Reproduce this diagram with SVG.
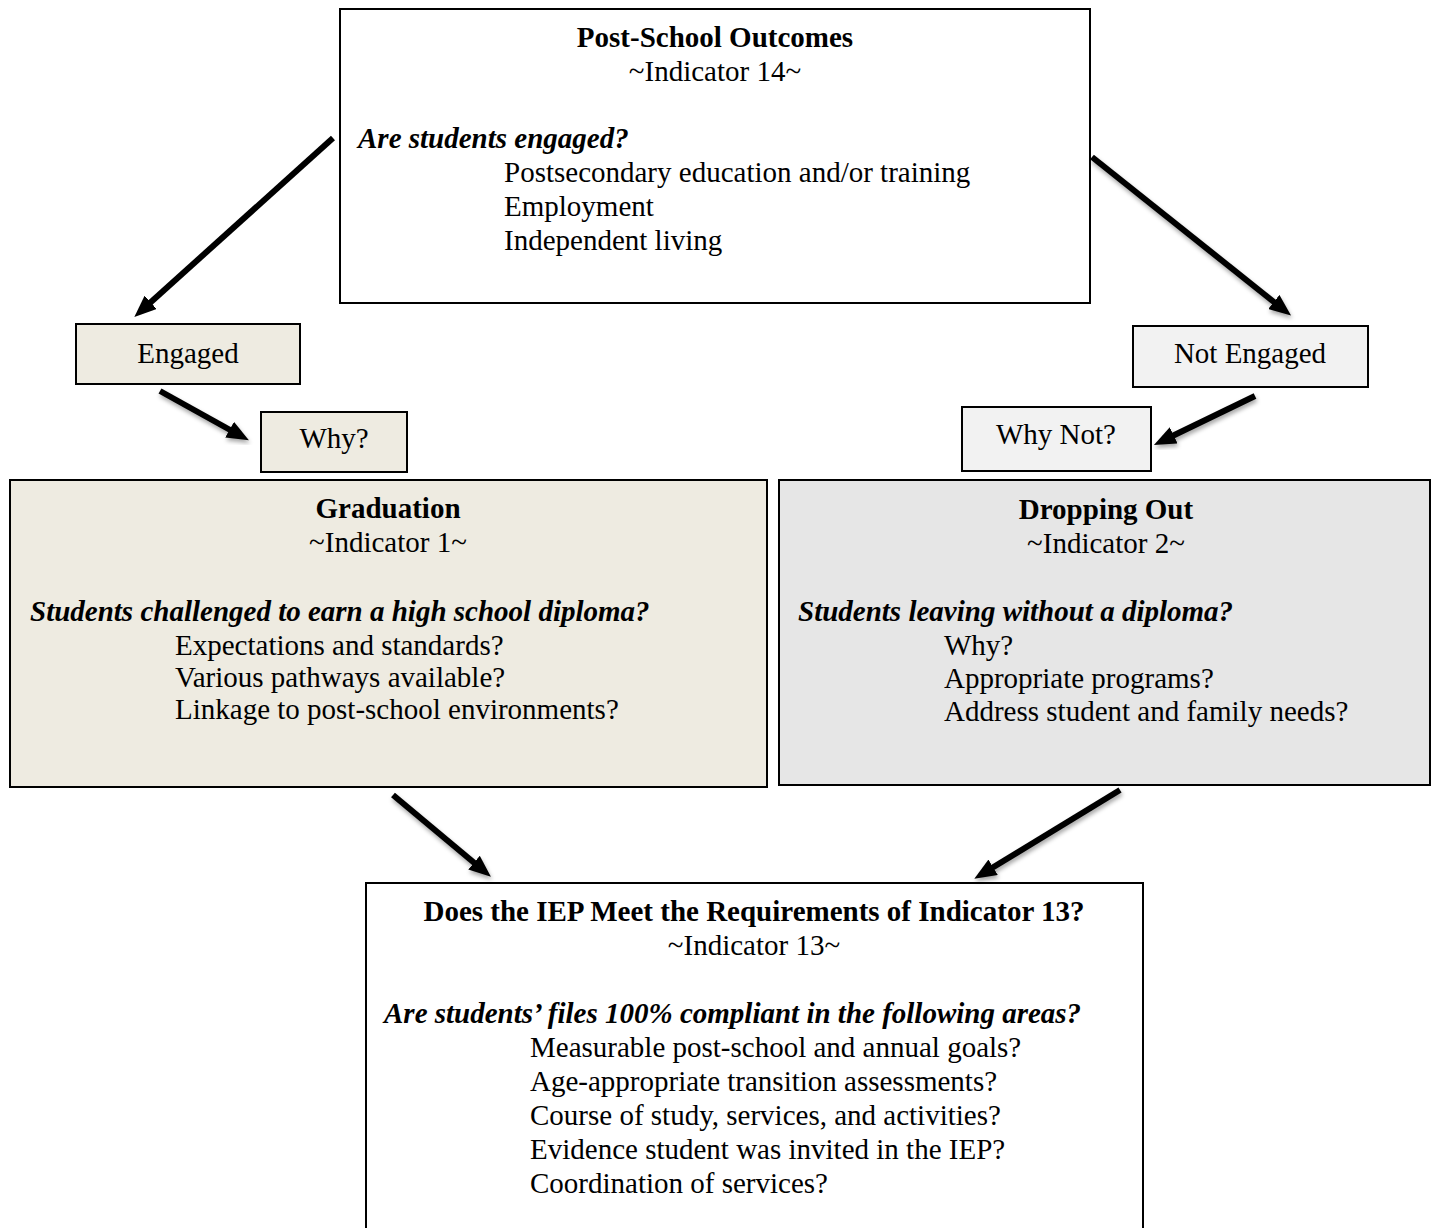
<svg xmlns="http://www.w3.org/2000/svg" width="1439" height="1228" viewBox="0 0 1439 1228">
<style>
.box{stroke:#000;stroke-width:2}
text{font-family:"Liberation Serif","Times New Roman",serif;font-size:29px;fill:#000}
.c{text-anchor:middle}
.b{font-weight:bold}
.bi{font-weight:bold;font-style:italic}
.arr{stroke:#000;stroke-width:6;fill:none;marker-end:url(#ah)}
</style>
<defs>
<marker id="ah" markerUnits="userSpaceOnUse" markerWidth="22" markerHeight="18" refX="13" refY="9" orient="auto" viewBox="0 0 22 18">
<path d="M0,0 L22,9 L0,18 z" fill="#000"/>
</marker>
<filter id="sh" x="-20%" y="-20%" width="140%" height="140%">
<feDropShadow dx="1" dy="3" stdDeviation="2" flood-color="#000" flood-opacity="0.35"/>
</filter>
</defs>
<rect width="1439" height="1228" fill="#fff"/>

<g id="post-school">
<rect class="box" x="340" y="9" width="750" height="294" fill="#fff"/>
<text class="c b" x="715" y="47">Post-School Outcomes</text>
<text class="c" x="715" y="81">~Indicator 14~</text>
<text class="bi" x="358" y="148">Are students engaged?</text>
<text x="504" y="182">Postsecondary education and/or training</text>
<text x="504" y="216">Employment</text>
<text x="504" y="250">Independent living</text>
</g>

<g id="engaged">
<rect class="box" x="76" y="324" width="224" height="60" fill="#eeebe1"/>
<text class="c" x="188" y="363">Engaged</text>
</g>

<g id="not-engaged">
<rect class="box" x="1133" y="326" width="235" height="61" fill="#f2f2f2"/>
<text class="c" x="1250" y="363">Not Engaged</text>
</g>

<g id="why">
<rect class="box" x="261" y="412" width="146" height="60" fill="#eeebe1"/>
<text class="c" x="334" y="448">Why?</text>
</g>

<g id="why-not">
<rect class="box" x="962" y="407" width="189" height="64" fill="#f2f2f2"/>
<text class="c" x="1056" y="444">Why Not?</text>
</g>

<g id="graduation">
<rect class="box" x="10" y="480" width="757" height="307" fill="#eeebe1"/>
<text class="c b" x="388" y="518">Graduation</text>
<text class="c" x="388" y="552">~Indicator 1~</text>
<text class="bi" x="30" y="621">Students challenged to earn a high school diploma?</text>
<text x="175" y="655">Expectations and standards?</text>
<text x="175" y="687">Various pathways available?</text>
<text x="175" y="719">Linkage to post-school environments?</text>
</g>

<g id="dropping-out">
<rect class="box" x="779" y="480" width="651" height="305" fill="#e6e6e6"/>
<text class="c b" x="1106" y="519">Dropping Out</text>
<text class="c" x="1106" y="553">~Indicator 2~</text>
<text class="bi" x="798" y="621">Students leaving without a diploma?</text>
<text x="944" y="655">Why?</text>
<text x="944" y="688">Appropriate programs?</text>
<text x="944" y="721">Address student and family needs?</text>
</g>

<g id="iep">
<rect class="box" x="366" y="883" width="777" height="360" fill="#fff"/>
<text class="c b" x="754" y="921">Does the IEP Meet the Requirements of Indicator 13?</text>
<text class="c" x="754" y="955">~Indicator 13~</text>
<text class="bi" x="384" y="1023">Are students’ files 100% compliant in the following areas?</text>
<text x="530" y="1057">Measurable post-school and annual goals?</text>
<text x="530" y="1091">Age-appropriate transition assessments?</text>
<text x="530" y="1125">Course of study, services, and activities?</text>
<text x="530" y="1159">Evidence student was invited in the IEP?</text>
<text x="530" y="1193">Coordination of services?</text>
</g>

<g id="connectors">
<line class="arr" x1="333" y1="138" x2="141" y2="311"/>
<line class="arr" x1="1092" y1="157" x2="1284" y2="310" filter="url(#sh)"/>
<line class="arr" x1="160" y1="391" x2="241" y2="436" filter="url(#sh)"/>
<line class="arr" x1="1255" y1="396" x2="1162" y2="441" filter="url(#sh)"/>
<line class="arr" x1="393" y1="795" x2="484" y2="871" filter="url(#sh)"/>
<line class="arr" x1="1120" y1="790" x2="982" y2="874" filter="url(#sh)"/>
</g>
</svg>
